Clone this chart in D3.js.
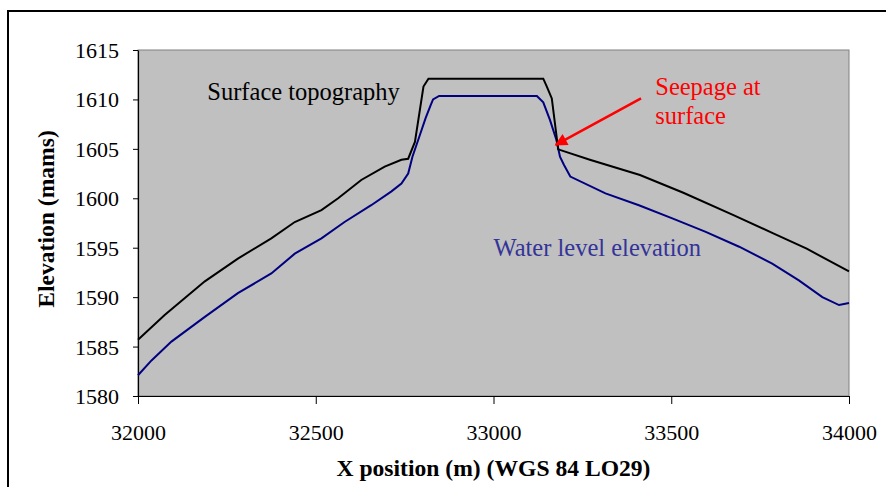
<!DOCTYPE html>
<html lang="en">
<head>
  <meta charset="UTF-8">
  <title>Elevation profile</title>
  <script src="https://d3js.org/d3.v7.min.js"></script>
  <style>
    body { margin: 0; background: #fff; }
    text { font-family: "Liberation Serif", "Times New Roman", serif; }
  </style>
</head>
<body>
  <svg id="chart" width="886" height="487"></svg>
  <script>
    // surface topography (x in m, elevation in mams)
    const surfaceX = [32000, 32075, 32188, 32281, 32375, 32441, 32516, 32563, 32628, 32694, 32741, 32760, 32779, 32803, 32817, 32830, 33140, 33150, 33164, 33182, 33271, 33412, 33534, 33675, 33787, 33881, 34000];
    const surfaceY = [1585.7, 1588.2, 1591.6, 1593.9, 1595.95, 1597.6, 1598.8, 1600.0, 1601.85, 1603.2, 1603.9, 1604.0, 1605.7, 1611.3, 1612.1, 1612.1, 1612.1, 1611.3, 1610.1, 1604.95, 1603.9, 1602.35, 1600.56, 1598.3, 1596.45, 1594.9, 1592.6];

    // water level elevation
    const waterX = [32000, 32038, 32094, 32188, 32281, 32375, 32441, 32516, 32581, 32656, 32713, 32741, 32760, 32772, 32791, 32809, 32823, 32830, 32847, 33122, 33140, 33159, 33177, 33187, 33198, 33216, 33315, 33409, 33503, 33597, 33691, 33784, 33859, 33925, 33972, 34000];
    const waterY = [1582.1, 1583.6, 1585.5, 1588.0, 1590.4, 1592.4, 1594.4, 1595.95, 1597.6, 1599.3, 1600.7, 1601.5, 1602.5, 1604.2, 1606.2, 1608.1, 1609.4, 1610.0, 1610.35, 1610.35, 1609.7, 1607.9, 1605.9, 1604.2, 1603.4, 1602.2, 1600.5, 1599.3, 1597.97, 1596.6, 1595.1, 1593.4, 1591.7, 1590.0, 1589.2, 1589.4];

    const xTicks = [32000, 32500, 33000, 33500, 34000];
    const yTicks = [1580, 1585, 1590, 1595, 1600, 1605, 1610, 1615];

    const svg = d3.select("#chart");
    const pl = 138, pr = 849, pt = 50, pb = 396;

    const x = d3.scaleLinear().domain([32000, 34000]).range([pl, pr]);
    const y = d3.scaleLinear().domain([1580, 1615]).range([pb, pt]);

    // outer frame
    svg.append("rect")
      .attr("x", 8).attr("y", 11)
      .attr("width", 900).attr("height", 500)
      .attr("fill", "none").attr("stroke", "#000").attr("stroke-width", 2);

    // plot area
    svg.append("rect")
      .attr("x", pl).attr("y", pt)
      .attr("width", pr - pl).attr("height", pb - pt)
      .attr("fill", "#c0c0c0").attr("stroke", "#808080").attr("stroke-width", 1);

    const xAxis = svg.append("g")
      .attr("transform", `translate(0,${pb})`)
      .call(d3.axisBottom(x).tickValues(xTicks).tickFormat(d3.format("d")).tickSizeInner(8).tickSizeOuter(0).tickPadding(20));
    const yAxis = svg.append("g")
      .attr("transform", `translate(${pl},0)`)
      .call(d3.axisLeft(y).tickValues(yTicks).tickFormat(d3.format("d")).tickSizeInner(5).tickSizeOuter(0).tickPadding(14));

    [xAxis, yAxis].forEach(a => {
      a.attr("font-family", null);
      a.selectAll("text").attr("font-size", 22).attr("fill", "#000");
      a.selectAll("line").attr("stroke", "#000");
      a.select(".domain").attr("stroke", "#000").attr("stroke-width", 1.2);
    });
    yAxis.selectAll("text").attr("dy", "0.34em");

    const line = d3.line().x(d => x(d[0])).y(d => y(d[1]));

    svg.append("path")
      .datum(d3.zip(waterX, waterY))
      .attr("d", line)
      .attr("fill", "none").attr("stroke", "#000080").attr("stroke-width", 2);

    svg.append("path")
      .datum(d3.zip(surfaceX, surfaceY))
      .attr("d", line)
      .attr("fill", "none").attr("stroke", "#000").attr("stroke-width", 2);

    // labels
    const fs = 24.5;
    svg.append("text").attr("x", x(32195)).attr("y", y(1609.9))
      .attr("font-size", fs).attr("fill", "#000").text("Surface topography");
    svg.append("text").attr("x", x(33000)).attr("y", y(1594.2))
      .attr("font-size", fs).attr("fill", "#333399").text("Water level elevation");
    svg.append("text").attr("x", x(33455)).attr("y", y(1610.4))
      .attr("font-size", fs).attr("fill", "#ff0000").text("Seepage at");
    svg.append("text").attr("x", x(33455)).attr("y", y(1607.5))
      .attr("font-size", fs).attr("fill", "#ff0000").text("surface");

    // arrow to seepage point
    svg.append("defs").append("marker")
      .attr("id", "head").attr("viewBox", "0 0 10 10")
      .attr("refX", 9).attr("refY", 5)
      .attr("markerWidth", 6).attr("markerHeight", 5)
      .attr("markerUnits", "strokeWidth")
      .attr("orient", "auto")
      .append("path").attr("d", "M0,0L10,5L0,10z").attr("fill", "#ff0000");
    svg.append("line")
      .attr("x1", x(33415)).attr("y1", y(1610.1))
      .attr("x2", x(33175)).attr("y2", y(1605.4))
      .attr("stroke", "#ff0000").attr("stroke-width", 2.5)
      .attr("marker-end", "url(#head)");

    // axis titles
    svg.append("text").attr("x", (pl + pr) / 2).attr("y", 476)
      .attr("text-anchor", "middle").attr("font-size", 23.6).attr("font-weight", "bold")
      .text("X position (m) (WGS 84 LO29)");
    svg.append("text")
      .attr("transform", `translate(54,${(pt + pb) / 2 - 4}) rotate(-90)`)
      .attr("text-anchor", "middle").attr("font-size", 23.6).attr("font-weight", "bold")
      .text("Elevation (mams)");
  </script>
</body>
</html>
